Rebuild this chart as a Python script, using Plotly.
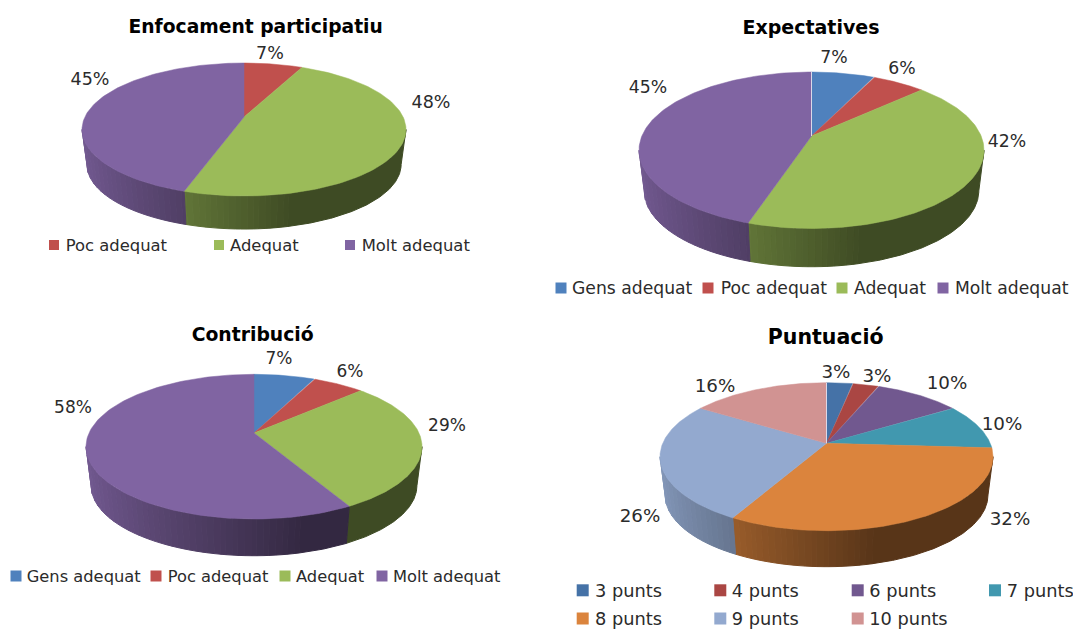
import numpy as np
import plotly.graph_objects as go

# ---------- data ----------
categories_enfocament = ["Poc adequat", "Adequat", "Molt adequat"]
values_enfocament = [7, 48, 45]
categories_expectatives = ["Gens adequat", "Poc adequat", "Adequat", "Molt adequat"]
values_expectatives = [7, 6, 42, 45]
categories_contribucio = ["Gens adequat", "Poc adequat", "Adequat", "Molt adequat"]
values_contribucio = [7, 6, 29, 58]
categories_puntuacio = ["3 punts", "4 punts", "6 punts", "7 punts", "8 punts", "9 punts", "10 punts"]
values_puntuacio = [3, 3, 10, 10, 32, 26, 16]

BLUE, RED, GREEN, PURPLE = "#4F81BD", "#C0504D", "#9BBB59", "#8064A2"
colors_puntuacio = ["#4572A7", "#AA4643", "#71588F", "#4198AF", "#DB843D", "#93A9CF", "#D19392"]

# ---------- layout of each panel (pixels of the 1073x630 page) ----------
panels = [
    dict(title="Enfocament participatiu", cats=categories_enfocament, vals=values_enfocament,
         colors=[RED, GREEN, PURPLE], seam=False,
         cx=244, cy=117, back=54, front=79, half=162, wall=35.4,
         title_xy=(255.7, 26.7), title_size=18.7,
         labels_xy=[(270, 53), (431, 102), (90, 79)], label_size=17.5,
         legend_size=16.4, swatch=10,
         swatch_xy=[(54, 245), (219, 245), (350, 245)], text_x=[65.7, 230, 361.7]),
    dict(title="Expectatives", cats=categories_expectatives, vals=values_expectatives,
         colors=[BLUE, RED, GREEN, PURPLE], seam=True,
         cx=811.5, cy=136, back=64, front=92.5, half=172.5, wall=41,
         title_xy=(811, 27.3), title_size=19,
         labels_xy=[(834, 57), (902, 68), (1007, 141), (648, 87)], label_size=17.3,
         legend_size=17.2, swatch=11,
         swatch_xy=[(561, 288), (708, 288), (842, 288), (943, 288)], text_x=[572, 720.7, 854, 955]),
    dict(title="Contribució", cats=categories_contribucio, vals=values_contribucio,
         colors=[BLUE, RED, GREEN, PURPLE], seam=False,
         cx=254, cy=433, back=58.7, front=86, half=168, wall=39.3,
         title_xy=(252.7, 334.3), title_size=18.8,
         labels_xy=[(279, 358), (350, 371), (447, 425), (73, 407)], label_size=17,
         legend_size=16.3, swatch=11,
         swatch_xy=[(16, 576), (156, 576), (285, 576), (382, 576)], text_x=[26.7, 167.7, 296, 393]),
    dict(title="Puntuació", cats=categories_puntuacio, vals=values_puntuacio,
         colors=colors_puntuacio, seam=True,
         cx=826.5, cy=443.3, back=60.6, front=87.4, half=166.5, wall=38.6,
         title_xy=(825.7, 336.7), title_size=20.5,
         labels_xy=[(836, 371), (877, 375), (947, 382), (1002, 423), (1010, 518), (640, 515), (715, 385)],
         label_size=18.3, legend_size=17.8, swatch=12,
         swatch_xy=[(582.7, 590.3), (720.3, 590.3), (857.7, 590.3), (995, 590.3),
                    (582.7, 618.5), (720.3, 618.5), (857.7, 618.5)],
         text_x=[595, 731.7, 869.3, 1006.7, 595, 731.7, 869.3]),
]

TEXT = "#2B2B2B"
SEAM = "#DCD8E8"
FONT = "DejaVu Sans"
WALL_SCALE = 0.97
TEXT_DY = 2  # plotly sets text a little high of its anchor


def make_projection(p):
    r = p["front"] / p["back"]
    k = (r - 1) / (r + 1)
    a = p["back"] * (1 + k)
    b = p["half"] * np.sqrt(1 - k * k)

    def project(theta, scale=1.0, drop=0.0):
        u, v = np.sin(theta), np.cos(theta)
        w = 1 + k * v
        return p["cx"] + scale * b * u / w, p["cy"] + drop - scale * a * v / w

    return project, np.arccos(-k)


def shade_hex(color, f):
    c = [int(color[i:i + 2], 16) for i in (1, 3, 5)]
    return "#%02X%02X%02X" % tuple(int(round(x * f)) for x in c)


def wall_shade(xn):
    # light from the left, falling to a flat dark tone right of the centre
    return float(np.clip(0.9 - 0.5 * (xn + 1) / 1.25, 0.4, 0.9))


fig = go.Figure()
common = dict(hoverinfo="skip", showlegend=False)

for p in panels:
    project, widest = make_projection(p)
    total = sum(p["vals"])
    edges = 2 * np.pi * np.cumsum([0] + p["vals"]) / total
    # walls first: only the front part, between the two widest points of the rim,
    # and contiguous runs of one shade make one solid polygon
    for i in range(len(p["vals"])):
        t0, t1 = max(edges[i], widest), min(edges[i + 1], 2 * np.pi - widest)
        if t1 <= t0:
            continue
        n = max(2, int(np.ceil((t1 - t0) / np.radians(0.5))))
        ts = np.linspace(t0, t1, n + 1)
        runs = []
        for a, b in zip(ts[:-1], ts[1:]):
            level = round(wall_shade(np.sin((a + b) / 2)) * 80) / 80
            if runs and runs[-1][0] == level:
                runs[-1][2] = b
            else:
                runs.append([level, a, b])
        for level, a, b in runs:
            arc = np.linspace(a, b, max(2, int((b - a) / np.radians(0.5)) + 1))
            xt, yt = project(arc)
            xb, yb = project(arc[::-1], WALL_SCALE, p["wall"])
            col = shade_hex(p["colors"][i], level)
            fig.add_trace(go.Scatter(x=list(xt) + list(xb) + [xt[0]], y=list(yt) + list(yb) + [yt[0]],
                                     mode="lines", fill="toself", fillcolor=col,
                                     line=dict(color=col, width=1), **common))
    # top faces
    for i in range(len(p["vals"])):
        arc = np.linspace(edges[i], edges[i + 1], 120)
        xt, yt = project(arc)
        xs = [p["cx"]] + list(xt) + [p["cx"]]
        ys = [p["cy"]] + list(yt) + [p["cy"]]
        fig.add_trace(go.Scatter(x=xs, y=ys, mode="lines", fill="toself", fillcolor=p["colors"][i],
                                 line=dict(color=p["colors"][i], width=0.5), **common))
    # thin pale seam where the first and last slices meet
    if p["seam"]:
        xe, ye = project(np.array([0.0]))
        fig.add_trace(go.Scatter(x=[p["cx"], xe[0]], y=[p["cy"], ye[0]], mode="lines",
                                 line=dict(color=SEAM, width=1), **common))
    # percentage labels
    fig.add_trace(go.Scatter(x=[q[0] for q in p["labels_xy"]], y=[q[1] + TEXT_DY for q in p["labels_xy"]],
                             mode="text", text=[f"{v}%" for v in p["vals"]],
                             textposition="middle center",
                             textfont=dict(family=FONT, size=p["label_size"], color=TEXT), **common))
    # title
    fig.add_trace(go.Scatter(x=[p["title_xy"][0]], y=[p["title_xy"][1] + TEXT_DY], mode="text", text=[p["title"]],
                             textposition="middle center",
                             textfont=dict(family=FONT, size=p["title_size"], color="#000000", weight=700),
                             **common))
    # legend
    for j, cat in enumerate(p["cats"]):
        sx, sy = p["swatch_xy"][j]
        fig.add_trace(go.Scatter(x=[sx], y=[sy], mode="markers",
                                 marker=dict(symbol="square", size=p["swatch"], color=p["colors"][j],
                                             line=dict(width=0)), **common))
        fig.add_trace(go.Scatter(x=[p["text_x"][j]], y=[sy + TEXT_DY], mode="text", text=[cat],
                                 textposition="middle right", cliponaxis=False,
                                 textfont=dict(family=FONT, size=p["legend_size"], color=TEXT), **common))

fig.update_layout(
    width=1073, height=630, margin=dict(l=0, r=0, t=0, b=0, autoexpand=False),
    paper_bgcolor="white", plot_bgcolor="white", showlegend=False,
    xaxis=dict(range=[0, 1073], visible=False, fixedrange=True),
    yaxis=dict(range=[630, 0], visible=False, fixedrange=True),
)
fig.write_html("out.html", config=dict(displayModeBar=False),
               post_script="document.body.style.margin='0';document.body.style.overflow='hidden';")
